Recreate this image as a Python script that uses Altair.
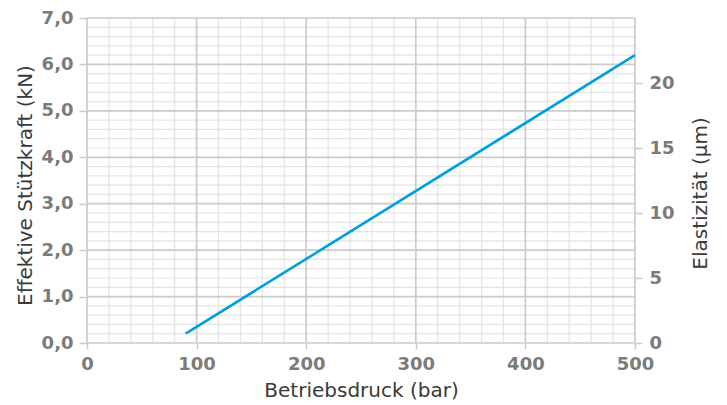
import altair as alt
import pandas as pd

# data
druck = [90, 500]            # bar
kraft = [0.2, 6.2]           # kN
x_major = [0, 100, 200, 300, 400, 500]
x_minor = [20, 40, 60, 80, 120, 140, 160, 180, 220, 240, 260, 280,
           320, 340, 360, 380, 420, 440, 460, 480]
y_major = [0, 1, 2, 3, 4, 5, 6, 7]
y_minor = [0.2, 0.4, 0.6, 0.8, 1.2, 1.4, 1.6, 1.8, 2.2, 2.4, 2.6, 2.8,
           3.2, 3.4, 3.6, 3.8, 4.2, 4.4, 4.6, 4.8, 5.2, 5.4, 5.6, 5.8,
           6.2, 6.4, 6.6, 6.8]
right_ticks = [0, 5, 10, 15, 20]

W, H = 548, 325
FONT = "DejaVu Sans"
LBL_COLOR = "#7b7b7b"
TTL_COLOR = "#3a3a3a"
GRID_MAJOR = "#cbcbcb"
GRID_MINOR = "#e4e4e4"
LINE_COLOR = "#00a0dc"

xs = alt.Scale(domain=[0, 500], nice=False, zero=False)
ys = alt.Scale(domain=[0, 7], nice=False, zero=False)
ys2 = alt.Scale(domain=[0, 25], nice=False, zero=False)

common = dict(grid=False, domain=False, tickColor=GRID_MAJOR, tickWidth=1.5,
              labelFlush=False, labelOverlap=False,
              labelFont=FONT, labelFontSize=18, labelFontWeight="bold", labelColor=LBL_COLOR,
              titleFont=FONT, titleFontSize=20, titleFontWeight="normal", titleColor=TTL_COLOR)

x_axis = alt.Axis(values=x_major, title="Betriebsdruck (bar)", tickSize=6, labelPadding=6,
                  titleY=47, titleBaseline="middle", **common)
y_axis = alt.Axis(values=y_major, title="Effektive Stützkraft  (kN)",
                  labelExpr="replace(format(datum.value, '.1f'), '.', ',')",
                  tickSize=8, labelPadding=6, titleAngle=270, titleX=-62, titleY=167,
                  titleBaseline="middle", titleAlign="center", **common)
r_axis = alt.Axis(orient="right", values=right_ticks, title="Elastizität (µm)",
                  tickSize=7, labelPadding=7, titleAngle=270, titleX=65, titleY=175,
                  titleBaseline="middle", titleAlign="center", **common)

vminor = alt.Chart(pd.DataFrame({"x": x_minor})).mark_rule(
    color=GRID_MINOR, strokeWidth=1.2).encode(x=alt.X("x:Q", scale=xs, axis=x_axis))
hminor = alt.Chart(pd.DataFrame({"y": y_minor})).mark_rule(
    color=GRID_MINOR, strokeWidth=1.2).encode(y=alt.Y("y:Q", scale=ys, axis=y_axis))
vmajor = alt.Chart(pd.DataFrame({"x": x_major})).mark_rule(
    color=GRID_MAJOR, strokeWidth=1.7).encode(x=alt.X("x:Q", scale=xs, axis=x_axis))
hmajor = alt.Chart(pd.DataFrame({"y": y_major})).mark_rule(
    color=GRID_MAJOR, strokeWidth=1.7).encode(y=alt.Y("y:Q", scale=ys, axis=y_axis))

line = alt.Chart(pd.DataFrame({"druck": druck, "kraft": kraft})).mark_line(
    color=LINE_COLOR, strokeWidth=2.6).encode(
    x=alt.X("druck:Q", scale=xs, axis=x_axis),
    y=alt.Y("kraft:Q", scale=ys, axis=y_axis),
)

inner = alt.layer(vminor, hminor, vmajor, hmajor, line)

right = alt.Chart(pd.DataFrame({"e": right_ticks})).mark_point(opacity=0).encode(
    y=alt.Y("e:Q", scale=ys2, axis=r_axis),
    x=alt.value(0),
)

chart = alt.layer(inner, right).resolve_scale(y="independent").properties(
    width=W, height=H,
    autosize=alt.AutoSizeParams(type="none"),
    padding={"left": 79, "top": 10, "right": 80, "bottom": 59},
).configure_view(stroke=None)

chart.save("out.html", embed_options={"renderer": "svg", "actions": False})
